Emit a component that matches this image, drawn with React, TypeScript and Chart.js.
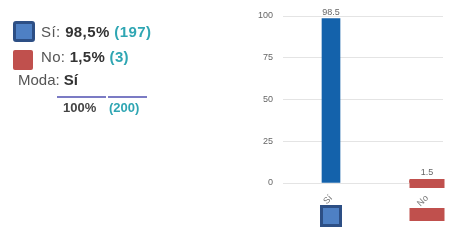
import React, { useEffect, useRef } from 'react';
import { Chart, registerables } from 'chart.js';
Chart.register(...registerables);

const categories = ['Sí', 'No'];
const percentages = [98.5, 1.5];
const percentLabels = ['98,5%', '1,5%'];
const counts = [197, 3];
const yTicks = [0, 25, 50, 75, 100];
const totalPercent = '100%';
const totalCount = 200;
const modeLabel = 'Sí';
const barColors = ['#1462ab', '#c0504d'];
const barWidths = [18, 35];

const FONT = '"Liberation Sans", Arial, sans-serif';

function Swatch({ kind, style }: { kind: number; style: React.CSSProperties }) {
  if (kind === 0) {
    return (
      <div
        style={{
          position: 'absolute',
          boxSizing: 'border-box',
          background: '#4e80c4',
          border: '3px solid #2d4f85',
          borderRadius: 3,
          ...style,
        }}
      />
    );
  }
  return <div style={{ position: 'absolute', background: '#c0504d', borderRadius: 2, ...style }} />;
}

export default function App() {
  const ref = useRef<HTMLCanvasElement | null>(null);

  useEffect(() => {
    document.body.style.margin = '0';
    const canvas = ref.current;
    if (!canvas) return;

    const overlay = {
      id: 'overlay',
      afterDatasetsDraw(chart: any) {
        const ctx = chart.ctx;
        const yScale = chart.scales.y;
        const base = yScale.getPixelForValue(0);
        ctx.save();
        ctx.font = `9px ${FONT}`;
        ctx.textAlign = 'center';
        ctx.textBaseline = 'alphabetic';
        categories.forEach((_, i) => {
          const el = chart.getDatasetMeta(i).data[0];
          if (!el) return;
          const x = el.x;
          let top = el.y;
          if (i === 1) {
            ctx.fillStyle = barColors[1];
            ctx.fillRect(x - barWidths[1] / 2, base - 4, barWidths[1], 9);
            top = base - 4;
          }
          ctx.fillStyle = '#666';
          ctx.fillText(String(percentages[i]), x, top - 4);
          if (i === 0) {
            const s = 22;
            ctx.fillStyle = '#2d4f85';
            ctx.fillRect(x - s / 2, 205, s, s);
            ctx.fillStyle = '#4e80c4';
            ctx.fillRect(x - s / 2 + 3, 208, s - 6, s - 6);
          } else {
            ctx.fillStyle = barColors[1];
            ctx.fillRect(x - barWidths[1] / 2, 208, barWidths[1], 13);
          }
        });
        ctx.restore();
      },
    };

    const chart = new Chart(canvas, {
      type: 'bar',
      data: {
        datasets: categories.map((c, i) => ({
          label: c,
          data: [{ x: i, y: percentages[i] }],
          backgroundColor: barColors[i],
          barThickness: barWidths[i],
          borderWidth: 0,
        })),
      },
      options: {
        animation: false,
        responsive: false,
        maintainAspectRatio: false,
        layout: { padding: { left: 250, right: 30, top: 16, bottom: 0 } },
        datasets: { bar: { grouped: false } },
        plugins: { legend: { display: false }, tooltip: { enabled: false } },
        scales: {
          x: {
            type: 'linear',
            offset: false,
            min: -0.5,
            max: 7 / 6,
            grid: { display: false },
            border: { display: false },
            afterBuildTicks: (s: any) => {
              s.ticks = categories.map((_, i) => ({ value: i }));
            },
            afterFit: (s: any) => {
              s.height = 57;
            },
            ticks: {
              autoSkip: false,
              minRotation: 45,
              maxRotation: 45,
              padding: 2,
              font: { size: 9, family: FONT },
              color: '#777',
              callback: (v: any) => categories[v] ?? '',
            },
          },
          y: {
            min: 0,
            max: 100,
            grid: { color: '#e4e4e4', drawTicks: false },
            border: { display: false },
            afterBuildTicks: (s: any) => {
              s.ticks = yTicks.map((v) => ({ value: v }));
            },
            afterFit: (s: any) => {
              s.width = 33;
            },
            ticks: {
              padding: 10,
              font: { size: 9, family: FONT },
              color: '#666',
            },
          },
        },
      },
      plugins: [overlay],
    } as any);
    return () => chart.destroy();
  }, []);

  const teal = '#2fa6b3';
  const txt: React.CSSProperties = {
    position: 'absolute',
    fontFamily: FONT,
    fontSize: 15,
    lineHeight: '18px',
    whiteSpace: 'nowrap',
    color: '#555',
  };

  return (
    <div style={{ position: 'relative', width: 473, height: 240, overflow: 'hidden', background: '#fff' }}>
      <canvas ref={ref} width={473} height={240} style={{ position: 'absolute', left: 0, top: 0 }} />
      <Swatch kind={0} style={{ left: 13, top: 21, width: 22, height: 21 }} />
      <div style={{ ...txt, left: 41, top: 23, letterSpacing: 0.4 }}>
        {categories[0]}: <b style={{ color: '#333' }}>{percentLabels[0]}</b>{' '}
        <b style={{ color: teal }}>({counts[0]})</b>
      </div>
      <Swatch kind={1} style={{ left: 13, top: 50, width: 20, height: 20 }} />
      <div style={{ ...txt, left: 41, top: 48, letterSpacing: 0.3 }}>
        {categories[1]}: <b style={{ color: '#333' }}>{percentLabels[1]}</b>{' '}
        <b style={{ color: teal }}>({counts[1]})</b>
      </div>
      <div style={{ ...txt, left: 18, top: 71 }}>
        Moda: <b style={{ color: '#333' }}>{modeLabel}</b>
      </div>
      <div style={{ position: 'absolute', left: 57, top: 96, width: 49, height: 2, background: '#7b7bc4' }} />
      <div style={{ position: 'absolute', left: 108, top: 96, width: 39, height: 2, background: '#7b7bc4' }} />
      <div style={{ ...txt, fontSize: 13, left: 63, top: 99, fontWeight: 'bold', color: '#444' }}>{totalPercent}</div>
      <div style={{ ...txt, fontSize: 13, left: 109, top: 99, fontWeight: 'bold', color: teal }}>({totalCount})</div>
    </div>
  );
}
